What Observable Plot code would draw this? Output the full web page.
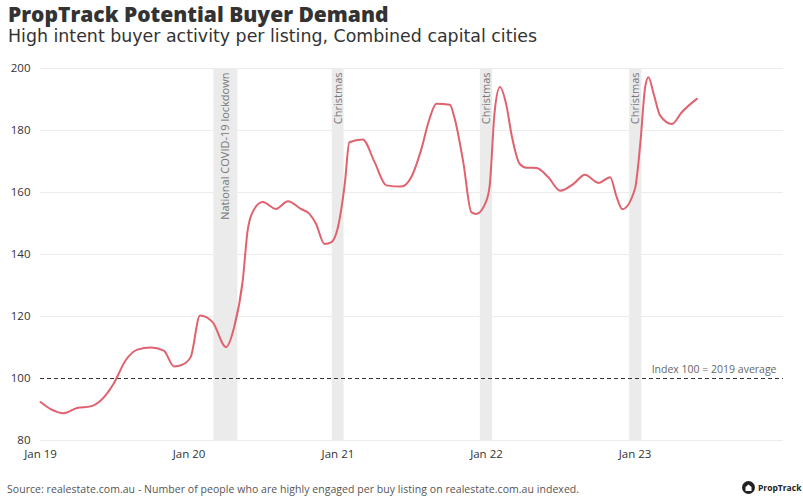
<!DOCTYPE html>
<html>
<head>
<meta charset="utf-8">
<script src="https://cdn.jsdelivr.net/npm/d3@7"></script>
<script src="https://cdn.jsdelivr.net/npm/@observablehq/plot@0.6"></script>
<style>
  html, body { margin: 0; padding: 0; background: #fff; }
  #wrap { position: relative; width: 803px; height: 503px; overflow: hidden; font-family: "Open Sans", sans-serif; }
  #title { position: absolute; left: 8px; top: 0px; font-size: 21px; font-weight: 800; color: #333; white-space: nowrap; }
  #subtitle { position: absolute; left: 8px; top: 26px; font-family: "DejaVu Sans", sans-serif; font-size: 17.4px; color: #333; white-space: nowrap; }
  #chart { position: absolute; left: 0; top: 55px; }
  #source { position: absolute; left: 7px; top: 482px; font-size: 10.5px; letter-spacing: 0.05px; color: #555; white-space: nowrap; }
  #logo { position: absolute; left: 742px; top: 481px; display: flex; align-items: center; gap: 3px; font-size: 8.5px; font-weight: 700; color: #222; }
</style>
</head>
<body>
<div id="wrap">
  <div id="title">PropTrack Potential Buyer Demand</div>
  <div id="subtitle">High intent buyer activity per listing, Combined capital cities</div>
  <div id="chart"></div>
  <div id="source">Source: realestate.com.au - Number of people who are highly engaged per buy listing on realestate.com.au indexed.</div>
  <div id="logo"><svg width="13" height="13" viewBox="0 0 13 13"><circle cx="6.5" cy="6.5" r="6.5" fill="#222"/><path d="M3.5 10V6L6.5 3.5L9.5 6V10Z" fill="#fff"/></svg><span>PropTrack</span></div>
</div>
<script>
// Series: high intent buyer activity per listing (index, 2019 average = 100)
const dates = [
  "2019-01-01","2019-01-25","2019-02-27","2019-04-01","2019-05-04","2019-05-29","2019-06-30",
  "2019-07-29","2019-08-27","2019-09-29","2019-10-31","2019-11-25","2019-12-16","2020-01-05",
  "2020-01-28","2020-02-28","2020-04-01","2020-04-21","2020-05-12","2020-05-24","2020-06-05",
  "2020-06-30","2020-08-02","2020-08-31","2020-10-02","2020-10-23","2020-11-08","2020-11-29",
  "2020-12-15","2021-01-01","2021-01-18","2021-01-29","2021-03-03","2021-04-01","2021-04-30",
  "2021-06-06","2021-06-30","2021-07-25","2021-08-14","2021-08-31","2021-10-03","2021-10-15",
  "2021-11-05","2021-11-25","2021-12-07","2022-01-01","2022-01-09","2022-01-21","2022-02-03",
  "2022-02-19","2022-03-04","2022-03-24","2022-04-10","2022-05-04","2022-06-02","2022-07-01",
  "2022-08-03","2022-08-31","2022-10-03","2022-11-01","2022-11-17","2022-12-01","2023-01-01",
  "2023-01-14","2023-01-26","2023-02-03","2023-02-16","2023-03-04","2023-04-02","2023-04-26",
  "2023-06-02"
];
const values = [
  92.4, 90.2, 88.8, 90.5, 91.0, 92.9, 98.4,
  105.8, 109.3, 110.0, 109.0, 103.9, 104.5, 106.9,
  120.3, 118.2, 110.1, 116.6, 131.6, 147.7, 153.6,
  156.9, 154.7, 157.2, 154.7, 153.1, 149.9, 143.4,
  143.9, 148.8, 163.0, 176.2, 177.1, 169.8, 162.3,
  161.9, 164.9, 174.0, 183.8, 188.6, 188.3, 183.8,
  169.8, 153.6, 153.1, 157.4, 162.3, 185.9, 194.0,
  188.1, 178.4, 169.2, 168.0, 167.9, 164.9, 160.6,
  162.8, 165.7, 163.1, 164.9, 158.5, 154.6, 161.2,
  175.7, 194.0, 197.2, 191.8, 184.8, 182.1, 185.9,
  190.2
];

// Shaded periods
const bandLabels = ["National COVID-19 lockdown", "Christmas", "Christmas", "Christmas"];
const bandStarts = ["2020-03-02", "2020-12-18", "2021-12-17", "2022-12-19"];
const bandEnds   = ["2020-04-30", "2021-01-16", "2022-01-16", "2023-01-18"];

// Axis ticks
const yTicks = [80, 100, 120, 140, 160, 180, 200];
const xTicks = ["2019-01-01", "2020-01-01", "2021-01-01", "2022-01-01", "2023-01-01"];
const xDomain = ["2019-01-01", "2024-01-01"];
const yDomain = [80, 200];
const baseline = 100;
const baselineLabel = "Index 100 = 2019 average";

const parse = d3.utcParse("%Y-%m-%d");
const data = dates.map((d, i) => ({date: parse(d), value: values[i]}));
const bands = bandLabels.map((label, i) => ({
  label,
  start: parse(bandStarts[i]),
  end: parse(bandEnds[i]),
  mid: new Date((parse(bandStarts[i]).getTime() + parse(bandEnds[i]).getTime()) / 2)
}));

const chart = Plot.plot({
  width: 803,
  height: 415,
  marginTop: 13,
  marginBottom: 30,
  marginLeft: 40,
  marginRight: 20,
  style: {fontFamily: "'Open Sans', sans-serif", background: "transparent"},
  x: {type: "utc", domain: xDomain.map(parse)},
  y: {domain: yDomain},
  marks: [
    Plot.rect(bands, {x1: "start", x2: "end", fill: "#ebebeb"}),
    Plot.gridY(yTicks.filter(t => t !== baseline), {stroke: "#ececec", strokeOpacity: 1, strokeWidth: 1}),
    Plot.text(bands, {x: "mid", y: yDomain[1], text: "label", rotate: -90, textAnchor: "end", dy: 4, fill: "#777", fontSize: 11}),
    Plot.ruleY([baseline], {stroke: "#333", strokeDasharray: "4,3", strokeWidth: 1}),
    Plot.text([baselineLabel], {y: baseline, frameAnchor: "right", textAnchor: "end", dx: -7, dy: -9, fill: "#666", fontSize: 10.5}),
    Plot.line(data, {x: "date", y: "value", stroke: "#e0626e", strokeWidth: 2, curve: "monotone-x"}),
    Plot.axisY({ticks: yTicks, tickSize: 0, tickPadding: 10, fontSize: 11.5, fill: "#333", label: null}),
    Plot.axisX({ticks: xTicks.map(parse), tickSize: 0, tickPadding: 9, tickFormat: d3.utcFormat("Jan %y"), fontSize: 11.5, fill: "#333", label: null})
  ]
});
document.getElementById("chart").appendChild(chart);
</script>
</body>
</html>
